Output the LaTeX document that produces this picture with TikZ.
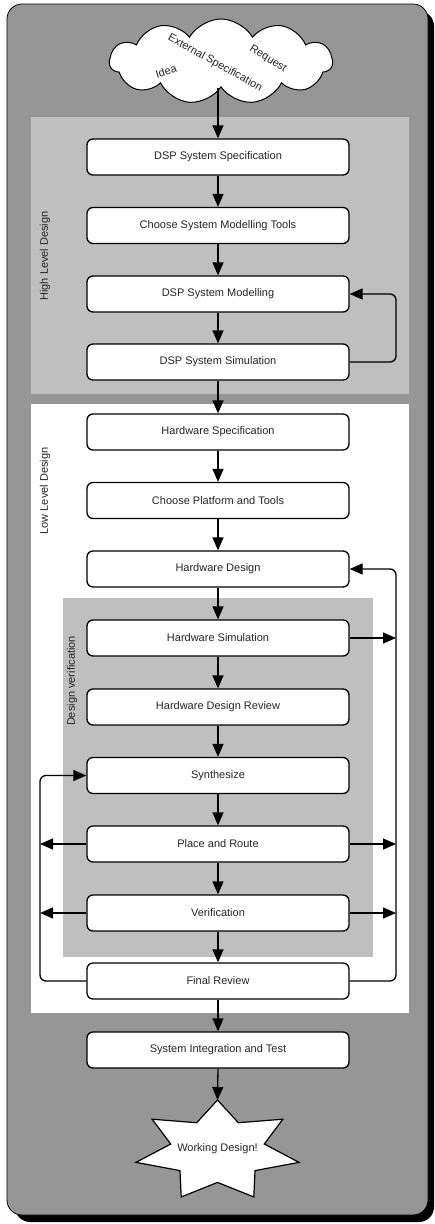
\documentclass[tikz,border=0pt]{standalone}
\usepackage{fontspec}
\setmainfont{Liberation Sans}
\usetikzlibrary{arrows.meta,shapes.symbols,calc}
\definecolor{framegray}{gray}{0.59}
\definecolor{panelgray}{gray}{0.75}
\tikzset{
  txt/.style={font=\fontsize{11}{13}\selectfont, text=black!85},
  stepbox/.style={txt, draw, fill=white, line width=1.3pt, rounded corners=6pt,
    minimum width=262pt, minimum height=36pt, inner sep=0pt},
  flow/.style={line width=1.3pt, -{Triangle[length=13pt,width=11pt]}},
  grouplabel/.style={txt, rotate=90},
  cloudtext/.style={txt, inner sep=0pt}
}
\begin{document}
\begin{tikzpicture}[x=1pt,y=-1pt]
\useasboundingbox (0,0) rectangle (434,1224);

% frame with drop shadow
\fill[black, rounded corners=15pt] (15,11) rectangle (434,1222);
\filldraw[fill=framegray, draw=black, line width=0.8pt, rounded corners=15pt] (7,4) rectangle (428,1215);

% design phase panels
\fill[panelgray] (31,117) rectangle (409,394);
\fill[white] (31,404) rectangle (409,1013);
\fill[panelgray] (63,598) rectangle (373,957);

\node[grouplabel] (hl) at (45,256) {High Level Design};
\node[grouplabel] (ll) at (45,491) {Low Level Design};
\node[grouplabel] (dv) at (72,681) {Design verification};

% inputs
\node[cloud, cloud puffs=11, cloud puff arc=120, aspect=2.6, draw, fill=white,
  line width=1pt, minimum width=223pt, minimum height=85pt] (cloud) at (221,61.5) {};
\node[cloudtext, rotate=-29] (ext) at (215,63) {External Specification};
\node[cloudtext, rotate=18] (idea) at (166,71) {Idea};
\node[cloudtext, rotate=-32] (req) at (268,59) {Request};

% process steps
\node[stepbox] (dspspec)  at (218,157)   {DSP System Specification};
\node[stepbox] (tools)    at (218,225.5) {Choose System Modelling Tools};
\node[stepbox] (dspmod)   at (218,294)   {DSP System Modelling};
\node[stepbox] (dspsim)   at (218,362)   {DSP System Simulation};
\node[stepbox] (hwspec)   at (218,432)   {Hardware Specification};
\node[stepbox] (platform) at (218,500.5) {Choose Platform and Tools};
\node[stepbox] (hwd)      at (218,569)   {Hardware Design};
\node[stepbox] (hwsim)    at (218,638)   {Hardware Simulation};
\node[stepbox] (hwrev)    at (218,707)   {Hardware Design Review};
\node[stepbox] (synth)    at (218,775.5) {Synthesize};
\node[stepbox] (pr)       at (218,844)   {Place and Route};
\node[stepbox] (verif)    at (218,913)   {Verification};
\node[stepbox] (final)    at (218,981)   {Final Review};
\node[stepbox] (sysint)   at (218,1050)  {System Integration and Test};

% final outcome: seven-pointed star
\coordinate (starc) at (217.5,1151);
\foreach \i in {0,...,13} {
  \pgfmathsetmacro\rx{65.8+17.8*cos(180*\i)}
  \pgfmathsetmacro\ry{41.2+9.8*cos(180*\i)}
  \coordinate (s\i) at ($(starc)+({90+\i*360/14}:\rx pt and \ry pt)$);
}
\draw[fill=white, line width=1.2pt, line join=miter]
  (s0) -- (s1) -- (s2) -- (s3) -- (s4) -- (s5) -- (s6) -- (s7)
  -- (s8) -- (s9) -- (s10) -- (s11) -- (s12) -- (s13) -- cycle;
\node[txt, inner sep=0pt] (work) at (217.5,1149) {Working Design!};

% feedback buses
\coordinate (rbus) at (396,0);
\coordinate (lbus) at (40,0);

% main flow
\draw[flow] (cloud.south -| dspspec.north) -- (dspspec);
\draw[flow] (dspspec) -- (tools);
\draw[flow] (tools) -- (dspmod);
\draw[flow] (dspmod) -- (dspsim);
\draw[flow] (dspsim) -- (hwspec);
\draw[flow] (hwspec) -- (platform);
\draw[flow] (platform) -- (hwd);
\draw[flow] (hwd) -- (hwsim);
\draw[flow] (hwsim) -- (hwrev);
\draw[flow] (hwrev) -- (synth);
\draw[flow] (synth) -- (pr);
\draw[flow] (pr) -- (verif);
\draw[flow] (verif) -- (final);
\draw[flow] (final) -- (sysint);
\draw[flow] (sysint.south) -- (s0);

% high level iteration
\draw[flow, rounded corners=6pt] (dspsim.east) -- (dspsim.east -| rbus)
  -- (dspmod.east -| rbus) -- (dspmod.east);

% low level iterations
\draw[flow, rounded corners=6pt] (final.east) -- (final.east -| rbus)
  -- (hwd.east -| rbus) -- (hwd.east);
\draw[flow] (hwsim.east) -- (hwsim.east -| rbus);
\draw[flow] (pr.east) -- (pr.east -| rbus);
\draw[flow] (verif.east) -- (verif.east -| rbus);

\draw[flow, rounded corners=6pt] (final.west) -- (final.west -| lbus)
  -- (synth.west -| lbus) -- (synth.west);
\draw[flow] (pr.west) -- (pr.west -| lbus);
\draw[flow] (verif.west) -- (verif.west -| lbus);
\end{tikzpicture}
\end{document}
